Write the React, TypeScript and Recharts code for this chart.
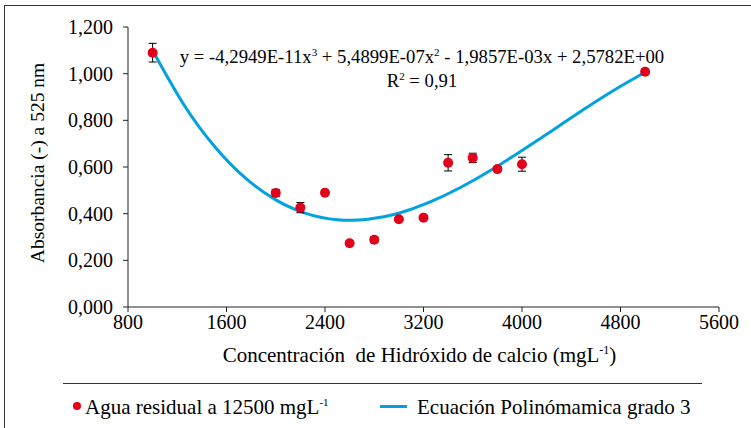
import { ComposedChart, Scatter, Line, XAxis, YAxis, ErrorBar, Label } from "recharts";

// measured points (mgL-1 of Ca(OH)2 vs absorbance at 525 nm)
const concentrations = [1000, 2000, 2200, 2400, 2600, 2800, 3000, 3200, 3400, 3600, 3800, 4000, 5000];
const absorbance = [1.09, 0.489, 0.426, 0.49, 0.273, 0.288, 0.376, 0.383, 0.618, 0.639, 0.591, 0.612, 1.008];
const deviation = [0.04, 0.015, 0.022, 0.01, 0.01, 0.012, 0.008, 0.008, 0.035, 0.02, 0.01, 0.03, 0.012];

// trend line
const fitX = [1000, 1250, 1500, 1750, 2000, 2250, 2500, 2750, 3000, 3250, 3500, 3750, 4000, 4250, 4500, 4750, 5000];
const fitY = [1.099, 0.87, 0.69, 0.554, 0.459, 0.4, 0.374, 0.376, 0.402, 0.449, 0.512, 0.587, 0.671, 0.758, 0.846, 0.93, 1.006];

const xTicks = [800, 1600, 2400, 3200, 4000, 4800, 5600];
const yTicks = [0, 0.2, 0.4, 0.6, 0.8, 1.0, 1.2];

const FONT = "Liberation Serif, serif";
const RED = "#e2001a";
const BLUE = "#00a2e0";

const points = concentrations.map((x, i) => ({ x, y: absorbance[i], err: deviation[i] }));
const fit = fitX.map((x, i) => ({ x, y: fitY[i] }));

const fmtY = (v: number) => v.toFixed(3).replace(".", ",");
const supStyle = { fontSize: 11, lineHeight: 0 };

export default function App() {
  return (
    <div style={{ position: "absolute", left: 0, top: 0, width: 751, height: 428, background: "#fff", fontFamily: FONT, color: "#000", overflow: "hidden" }}>
      <div style={{ position: "absolute", left: 4, top: 5, width: 760, height: 430, borderLeft: "1px solid #333", borderTop: "1px solid #333" }} />
      <ComposedChart width={751} height={428} margin={{ top: 27, right: 32, bottom: 91, left: 0 }}>
        <XAxis
          dataKey="x"
          type="number"
          domain={[800, 5600]}
          ticks={xTicks}
          height={30}
          tickSize={5}
          tickMargin={3}
          stroke="#222"
          tick={{ fill: "#000", fontSize: 20, fontFamily: FONT }}
          allowDataOverflow
        >
          <Label
            content={({ viewBox }: any) => (
              <text
                x={viewBox.x + viewBox.width / 2 - 4}
                y={viewBox.y + 55}
                textAnchor="middle"
                fontSize={21}
                fontFamily={FONT}
                fill="#000"
                style={{ whiteSpace: "pre" }}
              >
                Concentración  de Hidróxido de calcio (mgL
                <tspan dy={-8} fontSize={12}>-1</tspan>
                <tspan dy={8}>)</tspan>
              </text>
            )}
          />
        </XAxis>
        <YAxis
          type="number"
          domain={[0, 1.2]}
          ticks={yTicks}
          width={128}
          tickSize={5}
          tickMargin={10}
          stroke="#222"
          tickFormatter={fmtY}
          tick={{ fill: "#000", fontSize: 20, fontFamily: FONT }}
          allowDataOverflow
        >
          <Label
            content={() => (
              <text x={37} y={163} transform="rotate(-90, 37, 163)" textAnchor="middle" dominantBaseline="central" fontSize={19.5} fontFamily={FONT} fill="#000">
                Absorbancia (-) a 525 nm
              </text>
            )}
          />
        </YAxis>
        <Line data={fit} dataKey="y" type="natural" stroke={BLUE} strokeWidth={3} dot={false} isAnimationActive={false} />
        <Scatter
          data={points}
          dataKey="y"
          isAnimationActive={false}
          shape={(p: any) => <circle cx={p.cx} cy={p.cy} r={5} fill={RED} />}
        />
        <Scatter data={points} dataKey="y" isAnimationActive={false} shape={() => <g />}>
          <ErrorBar dataKey="err" direction="y" width={4} stroke="#000" strokeWidth={1} />
        </Scatter>
      </ComposedChart>

      <div style={{ position: "absolute", left: 122, top: 45, width: 600, textAlign: "center", fontSize: 18.7, lineHeight: "24px" }}>
        <div>
          y = -4,2949E-11x<sup style={supStyle}>3</sup> + 5,4899E-07x<sup style={supStyle}>2</sup> - 1,9857E-03x + 2,5782E+00
        </div>
        <div>
          R<sup style={supStyle}>2</sup> = 0,91
        </div>
      </div>

      <div style={{ position: "absolute", left: 63, top: 383, width: 639, borderTop: "1px solid #333" }} />
      <div style={{ position: "absolute", left: 0, top: 394, width: 751, height: 26, fontSize: 21, lineHeight: "26px" }}>
        <span style={{ position: "absolute", left: 73, top: 8, width: 8, height: 8, borderRadius: 4, background: RED }} />
        <span style={{ position: "absolute", left: 85, top: 0, whiteSpace: "nowrap" }}>
          Agua residual a 12500 mgL<sup style={supStyle}>-1</sup>
        </span>
        <span style={{ position: "absolute", left: 380, top: 11, width: 27, height: 3, background: BLUE }} />
        <span style={{ position: "absolute", left: 417, top: 0, whiteSpace: "nowrap" }}>Ecuación Polinómamica grado 3</span>
      </div>
    </div>
  );
}
